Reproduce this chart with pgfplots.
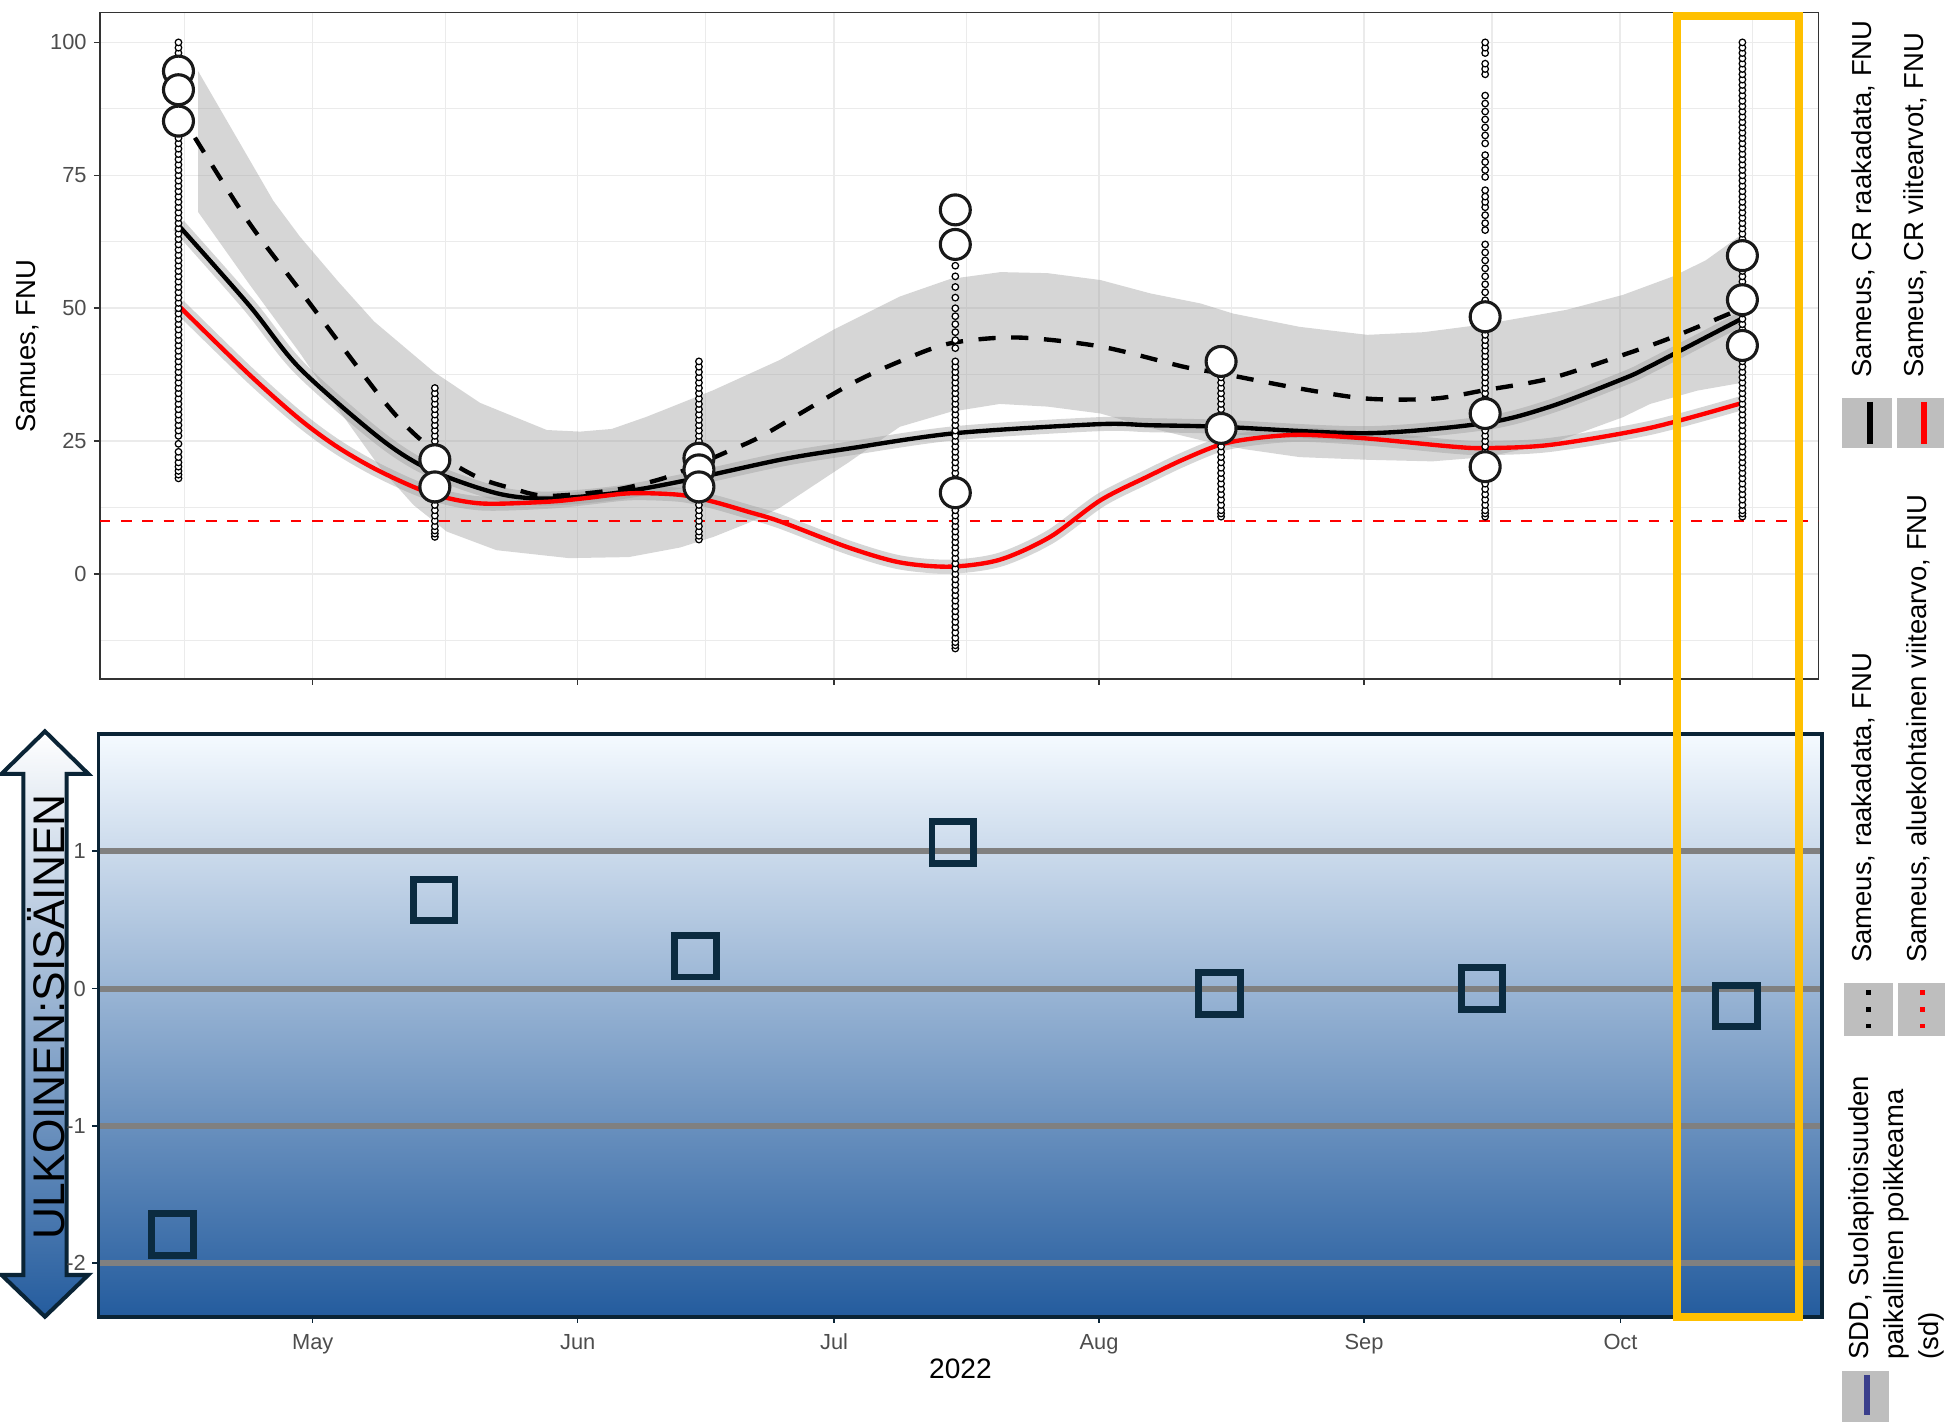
\documentclass[border=0pt]{standalone}
\usepackage{fontspec}
\setmainfont{Liberation Sans}
\usepackage{pgfplots}
\pgfplotsset{compat=1.18}
\definecolor{navyf}{HTML}{0A2436}
\definecolor{sqc}{HTML}{0B2B40}
\definecolor{gline}{HTML}{808080}
\definecolor{ybox}{HTML}{FFC000}
\definecolor{lgrey}{HTML}{BEBEBE}
\definecolor{sddc}{HTML}{3B3F8C}
\definecolor{tickg}{HTML}{4D4D4D}
\definecolor{gridc}{HTML}{EBEBEB}
\definecolor{gtop}{HTML}{F5FAFF}
\definecolor{gmid}{HTML}{96C2EC}
\definecolor{gbot}{HTML}{245C9E}
\definecolor{ribbon}{HTML}{999999}
\newcommand\lf{\fontsize{8.8}{11.2}\selectfont}
\newcommand\tf{\fontsize{7}{8}\selectfont}
\begin{document}
\begin{tikzpicture}
\useasboundingbox (0,0) rectangle (627.2pt,457.6pt);
% left double arrow
\begin{scope}[yshift=457.6pt, x=0.4pt, y=-0.4pt]
\draw[navyf, line width=1.3pt, line join=miter, top color=white, middle color=gmid, bottom color=gbot]
 (36,586) -- (70.7,620) -- (53.4,620) -- (53.4,1021.6) -- (70.7,1021.6) -- (36,1055) -- (1.3,1021.6) -- (18.7,1021.6) -- (18.7,620) -- (1.3,620) -- cycle;
\node[rotate=90, inner sep=0pt, font=\fontsize{14.2}{16}\selectfont] at (36.6,815) {ULKOINEN:SISÄINEN};
\end{scope}

% top panel
\begin{axis}[
  at={(32pt,240pt)}, anchor=south west, scale only axis,
  width=550.8pt, height=213.6pt,
  xmin=95.1, xmax=296.2, ymin=-19.72, ymax=105.63,
  axis line style={color=black!80, line width=0.6pt},
  xtick={120,151,181,212,243,273}, xticklabel=\empty,
  minor xtick={105,135.5,166,196.5,227.5,258,288.5},
  ytick={0,25,50,75,100}, yticklabels={0,25,50,75,100},
  minor ytick={-12.5,12.5,37.5,62.5,87.5},
  xmajorgrids, ymajorgrids, xminorgrids, yminorgrids,
  major grid style={gridc, line width=0.5pt},
  minor grid style={gridc, line width=0.35pt},
  tick align=outside, xtick pos=bottom, ytick pos=left,
  major tick length=1.9pt, minor tick length=0pt,
  tick style={black!80, line width=0.5pt},
  yticklabel style={font=\tf, text=tickg, xshift=1.2pt},
]
% raw data columns
\addplot[only marks, mark=*, mark size=1.05pt, mark options={draw=black, fill=white, line width=0.4pt}] coordinates {
(104.3,18)(104.3,18.7)(104.3,19.4)(104.3,20.2)(104.3,21)(104.3,22)(104.3,23)(104.3,24.5)(104.3,26)(104.3,27)(104.3,28)(104.3,29)(104.3,30)(104.3,31)(104.3,32)(104.3,33)(104.3,34)(104.3,35)(104.3,36)(104.3,37)(104.3,38)(104.3,39)(104.3,40)(104.3,41)(104.3,42)(104.3,43)(104.3,44)(104.3,45)(104.3,46)(104.3,47)(104.3,48)(104.3,49)(104.3,50)(104.3,51)(104.3,52)(104.3,53)(104.3,54)(104.3,55)(104.3,56)(104.3,57)(104.3,58)(104.3,59)(104.3,60)(104.3,61)(104.3,62)(104.3,63)(104.3,64)(104.3,65)(104.3,66)(104.3,67)(104.3,68)(104.3,69)(104.3,70)(104.3,71)(104.3,72)(104.3,73)(104.3,74)(104.3,75)(104.3,76)(104.3,77)(104.3,78)(104.3,79)(104.3,80)(104.3,81)(104.3,82)(104.3,83)(104.3,84)(104.3,85)(104.3,86)(104.3,87)(104.3,88)(104.3,89)(104.3,90)(104.3,91)(104.3,92)(104.3,93)(104.3,94)(104.3,95)(104.3,96)(104.3,97)(104.3,98)(104.3,99)(104.3,100)
(134.3,7)(134.3,7.6)(134.3,8.2)(134.3,9)(134.3,10)(134.3,11)(134.3,12)(134.3,13)(134.3,14)(134.3,15)(134.3,16)(134.3,17)(134.3,18)(134.3,19)(134.3,20)(134.3,21)(134.3,22)(134.3,23)(134.3,24)(134.3,25)(134.3,26)(134.3,27)(134.3,28)(134.3,29)(134.3,30)(134.3,31)(134.3,32)(134.3,33)(134.3,34)(134.3,35)
(165.2,6.5)(165.2,7.2)(165.2,8)(165.2,9)(165.2,10)(165.2,11)(165.2,12)(165.2,13)(165.2,14)(165.2,15)(165.2,16)(165.2,17)(165.2,18)(165.2,19)(165.2,20)(165.2,21)(165.2,22)(165.2,23)(165.2,24)(165.2,25)(165.2,26)(165.2,27)(165.2,28)(165.2,29)(165.2,30)(165.2,31)(165.2,32)(165.2,33)(165.2,34)(165.2,35)(165.2,36)(165.2,37)(165.2,38)(165.2,39)(165.2,40)
(195.2,-14)(195.2,-13.4)(195.2,-12.8)(195.2,-12)(195.2,-11)(195.2,-10)(195.2,-9)(195.2,-8)(195.2,-7)(195.2,-6)(195.2,-5)(195.2,-4)(195.2,-3)(195.2,-2)(195.2,-1)(195.2,0)(195.2,1)(195.2,2)(195.2,3)(195.2,4)(195.2,5)(195.2,6)(195.2,7)(195.2,8)(195.2,9)(195.2,10)(195.2,11)(195.2,12)(195.2,18)(195.2,19)(195.2,20)(195.2,21)(195.2,22)(195.2,23)(195.2,24)(195.2,25)(195.2,26)(195.2,27)(195.2,28)(195.2,29)(195.2,30)(195.2,31)(195.2,32)(195.2,33)(195.2,34)(195.2,35)(195.2,36)(195.2,37)(195.2,38)(195.2,39)(195.2,40)(195.2,42.5)(195.2,44)(195.2,45.5)(195.2,47)(195.2,48.5)(195.2,50)(195.2,52)(195.2,54)(195.2,56)(195.2,58)
(226.3,10.8)(226.3,11.4)(226.3,12)(226.3,13)(226.3,14)(226.3,15)(226.3,16)(226.3,17)(226.3,18)(226.3,19)(226.3,20)(226.3,21)(226.3,22)(226.3,23)(226.3,24)(226.3,25)(226.3,26)(226.3,27)(226.3,28)(226.3,29)(226.3,30)(226.3,31)(226.3,32)(226.3,33)(226.3,34)(226.3,35)(226.3,36)(226.3,37)
(257.2,10.8)(257.2,11.4)(257.2,12)(257.2,13)(257.2,14)(257.2,15)(257.2,16)(257.2,17)(257.2,18)(257.2,19)(257.2,20)(257.2,21)(257.2,22)(257.2,23)(257.2,24)(257.2,25)(257.2,26)(257.2,27)(257.2,28)(257.2,29)(257.2,30)(257.2,31)(257.2,32)(257.2,33)(257.2,34)(257.2,35)(257.2,36)(257.2,37)(257.2,38)(257.2,39)(257.2,40)(257.2,41)(257.2,42)(257.2,43)(257.2,44)(257.2,45)(257.2,46)(257.2,47)(257.2,50)(257.2,51.5)(257.2,53)(257.2,54.5)(257.2,56)(257.2,57.5)(257.2,59)(257.2,60.5)(257.2,62)(257.2,64.7)(257.2,66)(257.2,67.5)(257.2,69)(257.2,70)(257.2,71)(257.2,72.2)(257.2,74.7)(257.2,76)(257.2,77.5)(257.2,78.8)(257.2,81)(257.2,82.5)(257.2,84)(257.2,85.5)(257.2,87)(257.2,88.5)(257.2,90)(257.2,94)(257.2,95)(257.2,96)(257.2,98)(257.2,99)(257.2,100)
(287.3,10.8)(287.3,11.4)(287.3,12)(287.3,13)(287.3,14)(287.3,15)(287.3,16)(287.3,17)(287.3,18)(287.3,19)(287.3,20)(287.3,21)(287.3,22)(287.3,23)(287.3,24)(287.3,25)(287.3,26)(287.3,27)(287.3,28)(287.3,29)(287.3,30)(287.3,31)(287.3,32)(287.3,33)(287.3,34)(287.3,35)(287.3,36)(287.3,37)(287.3,38)(287.3,39)(287.3,40)(287.3,41)(287.3,42)(287.3,43)(287.3,44)(287.3,45)(287.3,46)(287.3,47)(287.3,48)(287.3,49)(287.3,50)(287.3,51)(287.3,52)(287.3,53)(287.3,54)(287.3,55)(287.3,56)(287.3,57)(287.3,58)(287.3,59)(287.3,60)(287.3,61)(287.3,62)(287.3,63)(287.3,64)(287.3,65)(287.3,66)(287.3,67)(287.3,68)(287.3,69)(287.3,70)(287.3,71)(287.3,72)(287.3,73)(287.3,74)(287.3,75)(287.3,76)(287.3,77)(287.3,78)(287.3,79)(287.3,80)(287.3,81)(287.3,82)(287.3,83)(287.3,84)(287.3,85)(287.3,86)(287.3,87)(287.3,88)(287.3,89)(287.3,90)(287.3,91)(287.3,92)(287.3,93)(287.3,94)(287.3,95)(287.3,96)(287.3,97)(287.3,98)(287.3,99)(287.3,100)
};
% large circles
\addplot[only marks, mark=*, mark size=4.8pt, mark options={draw=black!90, fill=white, line width=1pt}] coordinates {
(104.3,94.6)(104.3,91.1)(104.3,85.2)
(134.3,21.5)(134.3,16.4)
(165.2,21.8)(165.2,19.6)(165.2,16.4)
(195.2,68.5)(195.2,62)(195.2,15.3)
(226.3,40)(226.3,27.4)
(257.2,48.4)(257.2,30.2)(257.2,20.2)
(287.3,59.9)(287.3,51.6)(287.3,43)
};
% ribbon of dashed smooth
\addplot[draw=none, fill=ribbon, fill opacity=0.4] coordinates {
(106.6,94.6)(115.4,70.2)(118.5,63.5)(123,55)(127.2,47.5)(134.2,38)(139.6,32.2)(147.4,27.1)(151.3,26.8)(155,27.3)(159.1,29.6)(166.9,34.6)(174.7,40.3)(181,46)(188.7,52.2)(194.6,55.5)(200.5,56.8)(206,56.6)(212.2,55.3)(218,52.8)(223.9,50.9)(227.7,49)(235.5,46.5)(243.4,45)(250,45.5)(257.2,47)(266.7,49.7)(273.3,52.5)(279.2,56)(283,59)(286.3,62.8)(287.3,64)
(287.3,36)(282,34.5)(276.5,32)(273.3,29.5)(264.8,24.5)(257.2,22)(251,21.2)(243.4,21.5)(235.5,22)(229,23.5)(223.9,25.2)(218,27.5)(212.2,30.2)(206,31.5)(200.4,32)(194.6,30.5)(188.7,27.7)(182.7,21)(174.7,12.5)(170.8,9.5)(166.9,7)(163,5)(157,3.2)(150,3)(141.5,4.5)(135.7,8)(131.8,13)(127.9,20)(123,31)(118.5,41.6)(112.6,54.5)(106.6,68.1)
} -- cycle;
% narrow ribbons
\addplot[ribbon, opacity=0.4, line width=4.5pt, smooth] coordinates {
(104.3,65.6)(112.6,50.5)(118.5,38.7)(127.9,25.5)(133.75,19.6)(141.55,15.2)(147.4,14.2)(155.2,15.2)(163,17.4)(174.7,21.5)(182.7,23.6)(195.2,26.5)(212,28.2)(217.9,28)(226.3,27.7)(243.4,26.5)(257.2,28.4)(264.8,31.5)(273.3,36.7)(276.5,39.1)(287.3,48.1)};
\addplot[ribbon, opacity=0.4, line width=4.5pt, smooth] coordinates {
(104.3,50.5)(112.6,37.5)(118.5,29.1)(123,23.8)(127.9,19.3)(133.75,15.2)(139.6,13.3)(147.4,13.6)(152,14.3)(157.2,15.2)(163,14.9)(166.9,13.6)(170.8,11.8)(174.7,9.9)(182.7,5)(188.7,2.2)(194.6,1.4)(200.4,2.7)(206.3,7)(212.2,13.9)(217.9,18.5)(221.8,21.5)(226.1,24.3)(230,25.5)(235.5,26.2)(243.4,25.5)(253.2,24)(257.2,23.7)(264.8,24.3)(276.5,27.5)(287.3,32.2)};
% lines
\addplot[black, line width=1.4pt, dash pattern=on 5.5pt off 5pt, smooth] coordinates {
(104.3,87.4)(106.6,81.1)(112.6,66)(118.5,53.4)(127.9,33.4)(131.8,26.5)(135.7,21.5)(139.6,18)(143.4,16.1)(147.4,14.7)(155.2,15.8)(161,18)(164.9,20.5)(168.9,23.3)(172.8,26.2)(182.7,35.5)(188.7,40)(194.6,43.4)(202.4,44.5)(212.2,42.8)(221.9,39)(226.1,37.8)(235.5,34.9)(243.4,33)(251.2,33)(257.2,34.6)(264.8,36.8)(273.3,41.2)(279.2,44.6)(287.3,50)};
\addplot[black, line width=1.4pt, smooth] coordinates {
(104.3,65.6)(112.6,50.5)(118.5,38.7)(127.9,25.5)(133.75,19.6)(141.55,15.2)(147.4,14.2)(155.2,15.2)(163,17.4)(174.7,21.5)(182.7,23.6)(195.2,26.5)(212,28.2)(217.9,28)(226.3,27.7)(243.4,26.5)(257.2,28.4)(264.8,31.5)(273.3,36.7)(276.5,39.1)(287.3,48.1)};
\addplot[red, line width=1.4pt, smooth] coordinates {
(104.3,50.5)(112.6,37.5)(118.5,29.1)(123,23.8)(127.9,19.3)(133.75,15.2)(139.6,13.3)(147.4,13.6)(152,14.3)(157.2,15.2)(163,14.9)(166.9,13.6)(170.8,11.8)(174.7,9.9)(182.7,5)(188.7,2.2)(194.6,1.4)(200.4,2.7)(206.3,7)(212.2,13.9)(217.9,18.5)(221.8,21.5)(226.1,24.3)(230,25.5)(235.5,26.2)(243.4,25.5)(253.2,24)(257.2,23.7)(264.8,24.3)(276.5,27.5)(287.3,32.2)};
\addplot[red, line width=0.65pt, dash pattern=on 3.4pt off 3.4pt] coordinates {(95.1,10)(296.2,10)};
\end{axis}

% bottom panel
\begin{axis}[
  at={(31.6pt,35.6pt)}, anchor=south west, scale only axis,
  width=552.4pt, height=186.8pt,
  xmin=94.95, xmax=296.6, ymin=-2.39, ymax=1.855,
  axis background/.style={top color=gtop, middle color=gmid, bottom color=gbot},
  axis line style={navyf, line width=1.2pt},
  xtick={120,151,181,212,243,273}, xticklabels={May,Jun,Jul,Aug,Sep,Oct},
  ytick={-2,-1,0,1}, yticklabels={-2,-1,0,1},
  ymajorgrids, major grid style={gline, line width=1.9pt},
  tick align=outside, xtick pos=bottom, ytick pos=left,
  major tick length=2pt, tick style={navyf, line width=0.5pt},
  ticklabel style={font=\tf, text=tickg},
  yticklabel style={xshift=1.4pt},
]
\addplot[only marks, mark=square, mark size=6.7pt, mark options={draw=sqc, line width=2.2pt}] coordinates {
(103.6,-1.79)(134.2,0.645)(164.8,0.236)(194.9,1.064)(226.1,-0.036)(256.8,0)(286.6,-0.127)};
\end{axis}

% overlay: labels, legend, highlight box
\begin{scope}[yshift=457.6pt, x=0.4pt, y=-0.4pt]
\node[rotate=90, inner sep=0pt, font=\lf] at (22,277.5) {Samues, FNU};
\node[inner sep=0pt, font=\fontsize{9}{10}\selectfont] at (769.5,1097) {2022};
% legend keys
\fill[lgrey] (1475.7,319.2) rectangle (1515.8,359.2);
\draw[black, line width=1.9pt] (1498,322) -- (1498,356);
\fill[lgrey] (1519.8,319.2) rectangle (1557.7,359.2);
\draw[red, line width=1.9pt] (1541.9,322) -- (1541.9,356);
\fill[lgrey] (1477.6,788) rectangle (1516.6,830);
\fill[black] (1495.45,793.15) rectangle (1499.15,796.85);
\fill[black] (1495.45,806.85) rectangle (1499.15,810.55);
\fill[black] (1495.45,820.15) rectangle (1499.15,823.85);
\fill[lgrey] (1521,788) rectangle (1558,830);
\fill[red] (1538.75,793.15) rectangle (1542.45,796.85);
\fill[red] (1538.75,806.85) rectangle (1542.45,810.55);
\fill[red] (1538.75,820.15) rectangle (1542.45,823.85);
\fill[lgrey] (1476.2,1098.3) rectangle (1513.6,1139.2);
\draw[sddc, line width=1.8pt] (1496.1,1101.8) -- (1496.1,1133.8);
% legend texts
\node[rotate=90, anchor=west, inner sep=0pt, font=\lf] at (1493,303) {Sameus, CR raakadata, FNU};
\node[rotate=90, anchor=west, inner sep=0pt, font=\lf] at (1535,303) {Sameus, CR viitearvot, FNU};
\node[rotate=90, anchor=west, inner sep=0pt, font=\lf] at (1493,772) {Sameus, raakadata, FNU};
\node[rotate=90, anchor=west, inner sep=0pt, font=\lf] at (1537,772) {Sameus, aluekohtainen viitearvo, FNU};
\node[rotate=90, anchor=north west, align=left, inner sep=0pt, font=\lf] at (1481,1090) {SDD, Suolapitoisuuden\\paikallinen poikkeama\\(sd)};
% highlight box
\draw[ybox, line width=2.6pt] (1343.5,13) rectangle (1441.7,1055);
\end{scope}
\end{tikzpicture}
\end{document}
